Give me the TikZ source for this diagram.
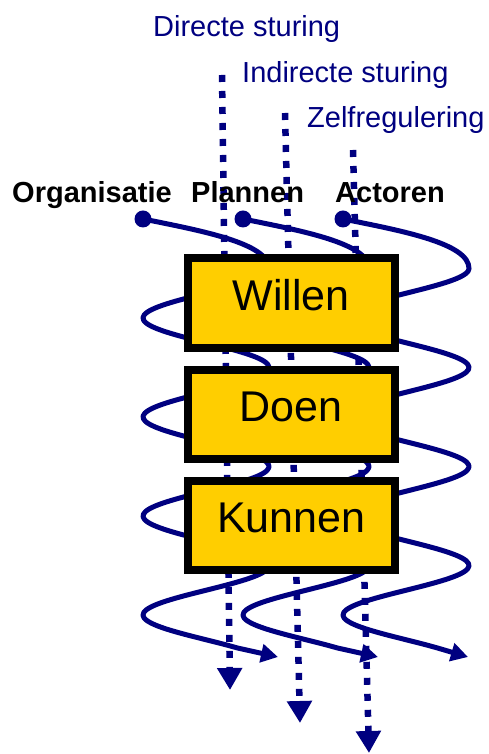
\documentclass[tikz,border=0pt]{standalone}
\usepackage{fontspec}
\setmainfont{Liberation Sans}
\usetikzlibrary{arrows.meta,calc}
\usepackage{tkz-euclide}

\definecolor{navy}{RGB}{0,0,128}
\definecolor{gold}{RGB}{255,206,0}

\tikzset{
  sturing/.style={navy,line width=6.5pt,dash pattern=on 7pt off 9pt,
    -{Triangle[width=24pt,length=22pt]}},
  spiraal/.style={navy,line width=5pt,line join=round,
    -{Triangle[width=18pt,length=17pt]}},
  blok/.style={draw=black,line width=8pt,fill=gold,inner sep=0pt,
    minimum width=206.5pt,minimum height=89.5pt,
    text height=31pt,text depth=16pt,font=\fontsize{43}{50}\selectfont},
  kop/.style={navy,anchor=base west,inner sep=0pt,font=\fontsize{29}{35}\selectfont},
  rol/.style={black,anchor=base west,inner sep=0pt,font=\fontsize{29}{35}\selectfont\bfseries}
}

\begin{document}
\begin{tikzpicture}[x=1pt,y=1pt]
\useasboundingbox (0,0) rectangle (488,754);

% Start and end of the three dotted lines.
\tkzDefPoints{222/679/DA,230/64/DB}
\tkzDefPoints{285/641/IA,300/31/IB}
\tkzDefPoints{353/604/ZA,369/1/ZB}

% Start dots and arrow ends of the spirals.
\tkzDefPoints{143/535/O1,243/535/O2,343/535/O3}
\tkzDefPoints{278/97/E1,378/97/E2,468/97/E3}

\draw[sturing] (DA) -- (DB);
\draw[sturing] (IA) -- (IB);
\draw[sturing] (ZA) -- (ZB);

% One spiral per row, shifted by 100 (pitch 99 per turn).
\foreach \i/\dx in {1/0,2/100,3/200}{
  \draw[spiraal] (O\i) .. controls +(60,-12) and +(0,25) .. (269+\dx,485.5)
    -- plot[domain=180:1560,samples=140,smooth]
       ({206+\dx-63*cos(\x)},{535-0.275*\x})
    -- (E\i);
  \fill[navy] (O\i) circle (8.5);
}

\node[blok] (willen) at (291.25,451) {Willen};
\node[blok] (doen)   at (291.25,339.5) {Doen};
\node[blok] (kunnen) at (291.25,228.5) {Kunnen};

\node[kop] (directe)   at (153,717) {Directe sturing};
\node[kop] (indirecte) at (242,671) {Indirecte sturing};
\node[kop] (zelf)      at (307,626) {Zelfregulering};

\node[rol] (organisatie) at (12,551) {Organisatie};
\node[rol] (plannen)     at (191,551) {Plannen};
\node[rol] (actoren)     at (335,551) {Actoren};

\end{tikzpicture}
\end{document}
